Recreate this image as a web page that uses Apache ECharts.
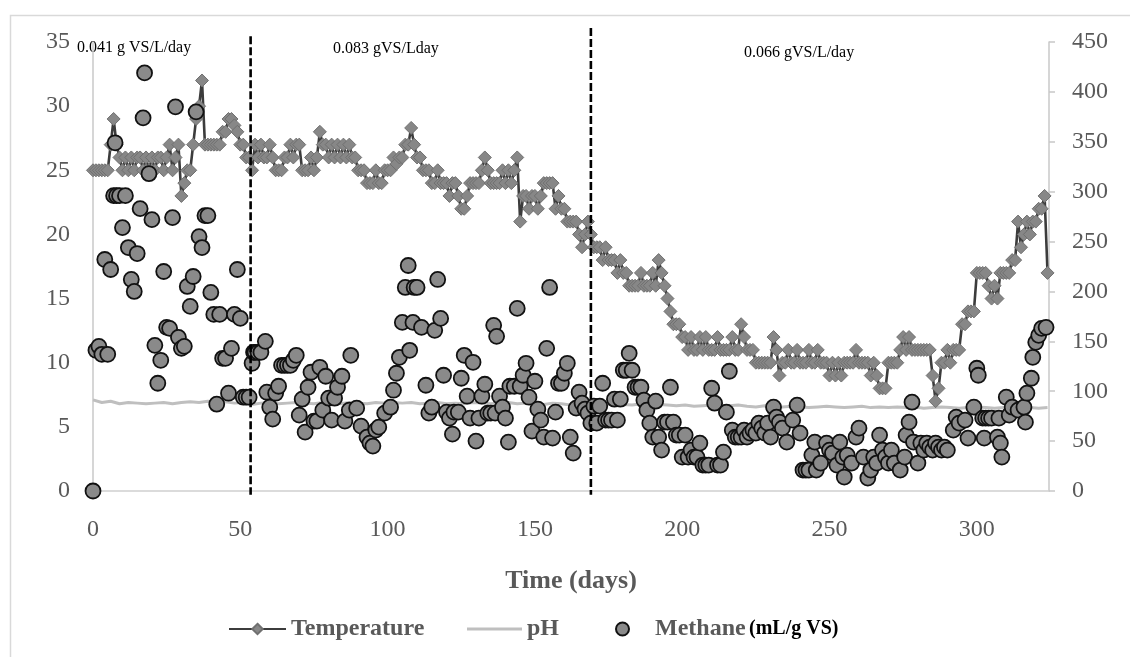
<!DOCTYPE html>
<html>
<head>
<meta charset="utf-8">
<script src="https://cdn.jsdelivr.net/npm/echarts@6/dist/echarts.min.js"></script>
<style>
html,body{margin:0;padding:0;background:#fff;}
#c{width:1130px;height:657px;}
</style>
</head>
<body>
<div id="c"></div>
<script>
// Temperature (°C), one value per day starting at day 0
const temperature = [
25,25,25,25,25,25,27,29,27,26,
25,26,25,26,25,26,26,25,26,25,
26,25,26,26,25,26,27,25,26,27,
23,24,25,25,27,29,30,32,27,27,
27,27,27,27,28,28,29,29,28.5,28,
27,27,26,26,25,27,26,27,26,26,
27,26,25,25,25,26,26,27,26,27,
27,25,25,25,26,25,26,28,27,27,
26,27,26,27,26,27,26,27,26,26,
25,25,25,24,24,24,25,24,24,25,
25,25,26,25.5,26,26,27,27,28.3,27,
26,26,25,25,25,24,24,25,24,24,
24,23,24,24,23,22,22,23,24,24,
24,24,25,26,25,24,24,24,24,25,
24,25,24,25,26,21,23,23,22,23,
23,22,23,24,24,24,24,22,23,22,
22,21,21,21,21,20,19,20,21,20,
19,19,19,18,19,18,18,18,17,18,
17,17,16,16,16,16,17,16,16,16,
17,16,18,17,16,15,14,13,13,13,
12,12,11,12,11,11,12,11,12,11,
11,11,12,11,11,11,11,12,11,11,
13,12,11,11,11,10,10,10,10,10,
10,12,11,9,10,10,11,10,10,11,
10,10,10,11,10,10,11,10,10,10,
9,10,9,10,9,10,10,10,10,11,
10,10,10,10,9,10,9,8,8,8,
10,10,10,10,11,12,11,12,11,11,
11,11,11,11,11,9,7,8,10,10,
11,10,11,11,11,13,13,14,14,14,
17,17,17,17,16,15,16,15,17,17,
17,17,18,18,21,19,20,21,20,21,
21,22,22,23,17
];

// pH readings
const phDays = [0,3,6,9,12,15,18,21,24,27,30,33,36,39,42,45,48,51,54,57,60,63,66,69,72,75,78,81,84,87,90,93,96,99,102,105,108,111,114,117,120,123,126,129,132,135,138,141,144,147,150,153,156,159,162,165,168,171,174,177,180,183,186,189,192,195,198,201,204,207,210,213,216,219,222,225,228,231,234,237,240,243,246,249,252,255,258,261,264,267,270,273,276,279,282,285,288,291,294,297,300,303,306,309,312,315,318,321,324];
const phValues = [7.1,6.9,7.0,6.8,6.9,6.85,6.8,6.85,6.9,6.8,6.9,6.95,6.9,7.0,6.9,6.95,6.85,6.9,6.75,6.85,6.9,6.8,6.85,6.9,6.85,6.8,6.9,6.85,6.8,6.9,6.85,6.8,6.9,6.85,6.9,6.85,6.9,6.8,6.85,6.9,6.8,6.85,6.8,6.9,6.85,6.8,6.85,6.9,6.8,6.85,6.8,6.75,6.85,6.8,6.7,6.8,6.85,6.75,6.8,6.7,6.75,6.7,6.8,6.7,6.75,6.7,6.65,6.7,6.6,6.65,6.7,6.6,6.65,6.7,6.6,6.55,6.65,6.6,6.55,6.6,6.55,6.5,6.55,6.6,6.55,6.5,6.55,6.6,6.5,6.55,6.5,6.55,6.5,6.55,6.45,6.5,6.55,6.5,6.45,6.5,6.55,6.5,6.45,6.5,6.45,6.5,6.5,6.45,6.5];

// Methane (mL/g VS): [day, value]
const methane = [
[0,0],[1,141],[2,145],[3,137],[5,137],[4,232],[6,222],[7,296],[8,296],[9,296],[11,296],[7.5,349],
[10,264],[12,244],[13,212],[14,200],[15,238],[16,283],[17,374],[17.5,419],[19,318],
[20,272],[21,146],[22,108],[23,131],[24,220],[25,164],[26,163],[27,274],[28,385],[29,154],
[30,143],[31,145],[32,205],[33,185],[34,215],[35,380],[36,255],[37,244],[38,276],[39,276],
[40,199],[41,177],[42,87],[43,177],[44,133],[45,133],[46,98],[47,143],[48,177],[49,222],
[50,173],[51,94],[52,94],[53,94],[54,128],[54.5,139],[55,139],[56,139],[57,139],[58.5,150],[59,99],
[60,84],[61,72],[62,98],[63,105],[64,126],[65,126],[66,126],[67,126],[68,131],[69,136],
[70,76],[71,92],[72,59],[73,104],[74,119],[75,70],[76,70],[77,124],[78,81],[79,115],
[80,93],[81,71],[82,93],[83,104],[84.5,115],[85.5,70],[87,81],[87.5,136],[89.5,83],
[91,65],[93,54],[94,48],[95,45],[96,61],[97,64],[99,78],[101,84],[102,101],[103,118],[104,134],
[105,169],[106,204],[107,226],[107.5,141],[108.6,169],[109,204],[110,204],[111.5,164],[113,106],[114,78],
[115,84],[116,161],[117,212],[118,173],[119,116],[120,79],[121,73],[122,57],[122.5,79],[124,79],
[125,113],[126,136],[127,95],[128,73],[129,129],[130,50],[131,73],[132,95],[133,107],[134,78],
[135,78],[136,166],[136.5,78],[137,155],[138,95],[139,84],[140,73],[141,49],[141.5,105],[143,105],
[144,183],[145,105],[146,116],[147,128],[148,94],[149,60],[150,110],[151,82],[152,71],[153,54],
[154,143],[155,204],[156,53],[157,79],[158,108],[159,108],[160,118],[161,128],[162,54],[163,38],
[164,83],[165,99],[166,88],[167,82],[168,78],[169,68],[170,85],[171,68],[172,85],[173,108],
[174,71],[175,71],[176,71],[177,92],[178,71],[179,92],[180,121],[181,121],[182,138],[183,121],
[184,104],[185,104],[186,104],[187,91],[188,81],[189,68],[190,54],[191,90],[192,54],[193,41],
[194,69],[195,69],[196,104],[197,69],[198,56],[199,56],[200,34],[201,56],[202,34],[203,41],
[204,34],[205,34],[206,48],[207,26],[208,26],[209,26],[210,103],[211,88],[212,26],[213,26],
[214,39],[215,79],[216,120],[217,61],[218,54],[219,54],[220,54],[221,61],[222,54],[223,58],
[224,61],[225,58],[226,68],[227,63],[228,58],[229,68],[230,54],[231,84],[232,74],[233,69],
[234,63],[235.5,49],[237.5,71],[239,86],[240,58],[241,21],[242,21],[243,21],[244,36],[245,49],
[245.5,21],[247,28],[249,48],[250,41],[251,38],[252.5,26],[253.5,49],[254.5,34],[255,14],[256,36],
[257.5,28],[259,54],[260,63],[261.5,34],[263,13],[264,21],[265,34],[266,28],[267,56],[268,41],
[269,34],[270,28],[271,41],[272,28],[274,21],[275.5,34],[276,56],[277,69],[278,89],[278.5,49],
[280,28],[281,48],[282,41],[283,48],[284,44],[285,41],[286,48],[287,44],[288,41],[289,44],
[290,41],[292,61],[293,74],[294,68],[296,71],[297,53],[299,84],[300,123],[300.5,116],[302,73],
[302.5,53],[303,73],[304,73],[305,73],[307,54],[307.5,73],[308,48],[308.5,34],[310,94],[311,76],
[312,84],[314,81],[316,84],[316.5,69],[317,98],[318.5,113],[319,134],[320,149],[321,156],[322,163],[323.5,164]
];

// Phase boundaries (days) and loading-rate labels
const phaseDays = [53.5, 169];
const phaseLabels = ['0.041 g VS/L/day', '0.083 gVS/Lday', '0.066 gVS/L/day'];

const xTicks = [0, 50, 100, 150, 200, 250, 300];
const leftTicks = [0, 5, 10, 15, 20, 25, 30, 35];
const rightTicks = [0, 50, 100, 150, 200, 250, 300, 350, 400, 450];

const SERIF = '"Liberation Serif", "Times New Roman", serif';
const GREY_TXT = '#595959';

const tempData = temperature.map((v, i) => [i, v]);
const phData = phDays.map((d, i) => [d, phValues[i]]);

const chart = echarts.init(document.getElementById('c'), null, {renderer: 'canvas'});
chart.setOption({
  backgroundColor: '#ffffff',
  animation: false,
  grid: {left: 93, right: 81, top: 42, bottom: 166, containLabel: false},
  xAxis: {
    type: 'value', min: 0, max: 324.5, interval: 50,
    name: 'Time (days)', nameLocation: 'middle', nameGap: 77,
    nameTextStyle: {fontFamily: SERIF, fontSize: 26, fontWeight: 'bold', color: GREY_TXT},
    axisLine: {show: true, lineStyle: {color: '#d0d0d0', width: 1.5}},
    axisTick: {show: false},
    splitLine: {show: false},
    axisLabel: {
      fontFamily: SERIF, fontSize: 24, color: GREY_TXT, margin: 27,
      formatter: v => (xTicks.indexOf(v) >= 0 ? String(v) : '')
    }
  },
  yAxis: [
    {
      type: 'value', min: 0, max: 35, interval: 5, position: 'left',
      axisLine: {show: true, lineStyle: {color: '#c8c8c8', width: 1.5}},
      axisTick: {show: false},
      splitLine: {show: false},
      axisLabel: {fontFamily: SERIF, fontSize: 24, color: GREY_TXT, margin: 23,
        formatter: v => (leftTicks.indexOf(v) >= 0 ? String(v) : '')}
    },
    {
      type: 'value', min: 0, max: 450, interval: 50, position: 'right',
      axisLine: {show: true, lineStyle: {color: '#c8c8c8', width: 1.5}},
      axisTick: {show: true, length: 6, lineStyle: {color: '#c8c8c8', width: 1.5}},
      splitLine: {show: false},
      axisLabel: {fontFamily: SERIF, fontSize: 24, color: GREY_TXT, margin: 23,
        formatter: v => (rightTicks.indexOf(v) >= 0 ? String(v) : '')}
    }
  ],
  legend: [
    {
      data: ['Temperature'], left: 223, top: 612, itemWidth: 57, itemHeight: 13,
      textStyle: {fontFamily: SERIF, fontSize: 24, fontWeight: 'bold', color: GREY_TXT}
    },
    {
      data: [{name: 'pH', icon: 'rect'}], left: 462, top: 612, itemWidth: 55, itemHeight: 3,
      itemStyle: {color: '#bfbfbf'},
      textStyle: {fontFamily: SERIF, fontSize: 24, fontWeight: 'bold', color: GREY_TXT}
    },
    {
      data: ['Methane'], left: 610, top: 612, itemWidth: 13, itemHeight: 13,
      formatter: name => '{a|' + name + '} {b|(mL/g VS)}',
      textStyle: {
        padding: [0, 0, 0, 21],
        rich: {
          a: {fontFamily: SERIF, fontSize: 24, fontWeight: 'bold', color: GREY_TXT},
          b: {fontFamily: SERIF, fontSize: 20, fontWeight: 'bold', color: '#000000'}
        }
      }
    }
  ],
  graphic: [
    {type: 'rect', left: 8, top: 13, silent: true, z: -10,
     shape: {width: 1160, height: 700},
     style: {fill: 'none', stroke: '#d9d9d9', lineWidth: 1.5}},
    {type: 'text', left: 77, top: 40, style: {text: phaseLabels[0], font: '16px ' + SERIF, fill: '#000'}},
    {type: 'text', left: 333, top: 41, style: {text: phaseLabels[1], font: '16px ' + SERIF, fill: '#000'}},
    {type: 'text', left: 744, top: 45, style: {text: phaseLabels[2], font: '16px ' + SERIF, fill: '#000'}}
  ],
  series: [
    {
      name: 'Temperature', type: 'line', yAxisIndex: 0, data: tempData,
      symbol: 'diamond', symbolSize: 13, showAllSymbol: true,
      lineStyle: {color: '#3c3c3c', width: 2.6},
      itemStyle: {color: '#878787', borderColor: '#707070', borderWidth: 1},
      z: 2
    },
    {
      name: 'pH', type: 'line', yAxisIndex: 0, data: phData,
      symbol: 'none', showSymbol: false,
      lineStyle: {color: '#bfbfbf', width: 3},
      itemStyle: {color: '#bfbfbf'},
      z: 1
    },
    {
      name: 'Methane', type: 'scatter', yAxisIndex: 1, data: methane,
      symbol: 'circle', symbolSize: 15,
      itemStyle: {color: '#8a8a8a', borderColor: '#111111', borderWidth: 1.8, opacity: 1},
      z: 3
    },
    {
      name: 'phase1', type: 'line', yAxisIndex: 0, clip: false, silent: true,
      data: [[phaseDays[0], 35.45], [phaseDays[0], -0.3]],
      symbol: 'none', lineStyle: {color: '#000', width: 2.6, type: [8, 3]}, z: 5
    },
    {
      name: 'phase2', type: 'line', yAxisIndex: 0, clip: false, silent: true,
      data: [[phaseDays[1], 36.1], [phaseDays[1], -0.3]],
      symbol: 'none', lineStyle: {color: '#000', width: 2.6, type: [8, 3]}, z: 5
    }
  ]
});
</script>
</body>
</html>
